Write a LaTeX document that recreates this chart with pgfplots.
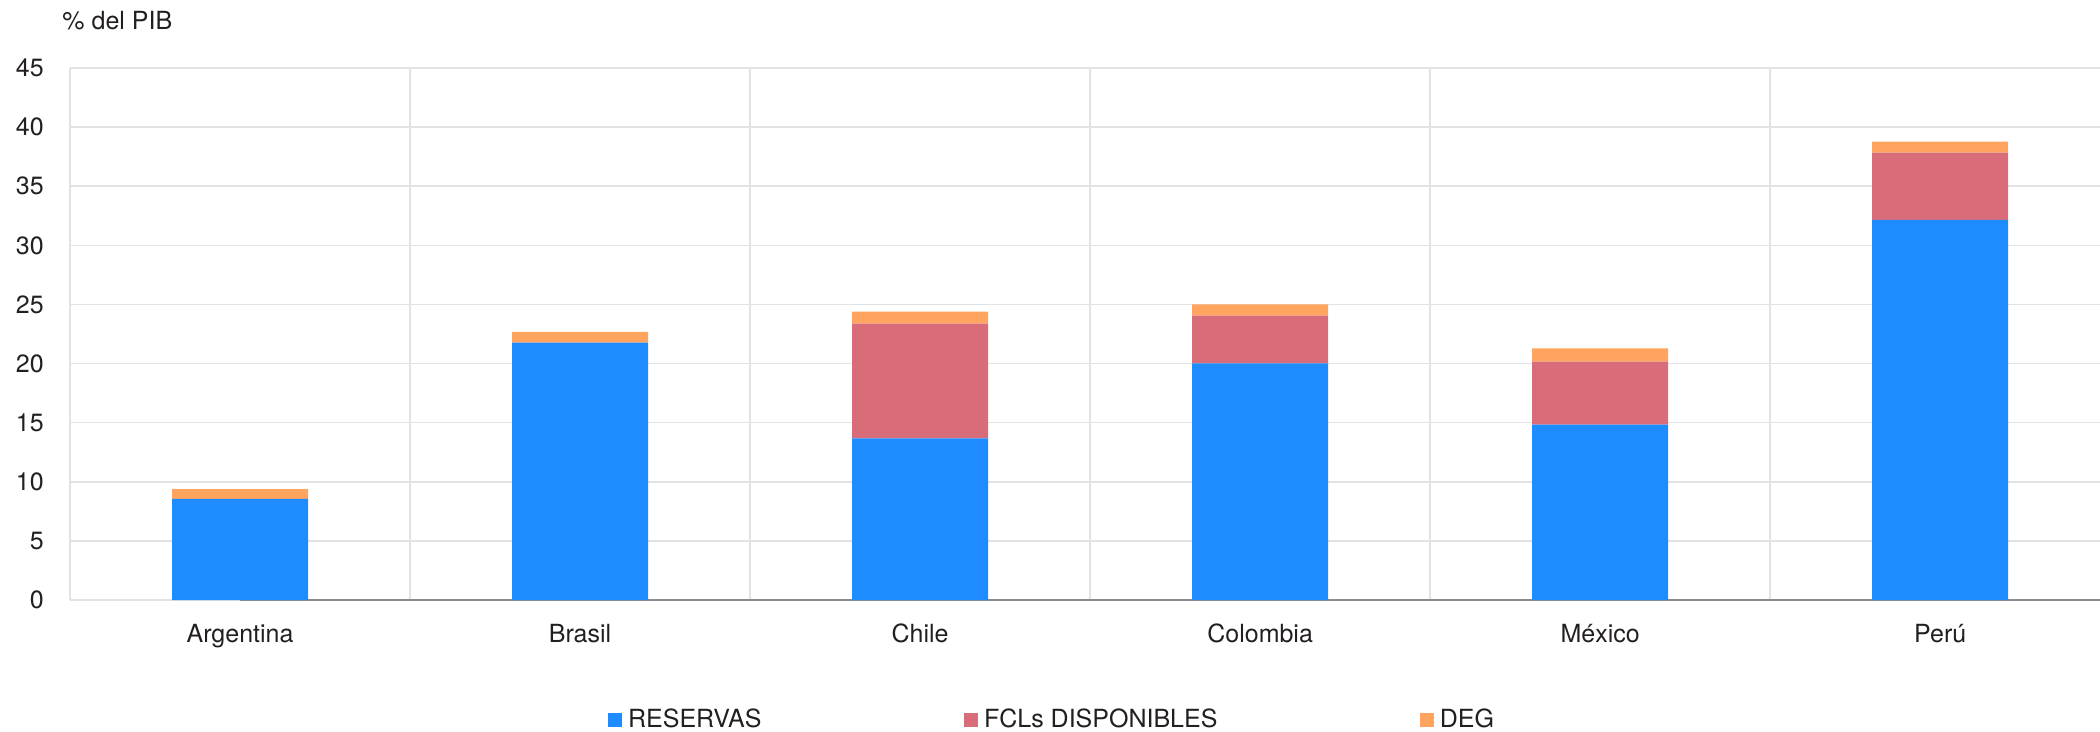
\documentclass[border=0pt]{standalone}
\usepackage{fontspec}
\setmainfont{TeX Gyre Heros}
\usepackage{pgfplots}
\pgfplotsset{compat=1.18}
\usepackage{pgfplotstable}

\definecolor{reservas}{HTML}{1E8CFF}
\definecolor{fcl}{HTML}{D96C79}
\definecolor{deg}{HTML}{FFA45E}
\definecolor{gridgray}{HTML}{E2E2E2}
\definecolor{txt}{HTML}{231F20}

% country  reservas  fcl  deg   (% del PIB)
\pgfplotstableread{
x  reservas  fcl   deg
0  8.55      0.0   0.82
1  21.77     0.0   0.90
2  13.68     9.70  1.01
3  20.02     4.03  0.95
4  14.83     5.33  1.13
5  32.15     5.69  0.93
}\datatable

\begin{document}
\begin{tikzpicture}
\path[use as bounding box] (-28pt,-52.4pt) rectangle (812pt,240pt);
\begin{axis}[
  at={(0,0)}, anchor=south west,
  scale only axis, width=812pt, height=212.8pt,
  ybar stacked, bar width=0.4, bar shift=0pt,
  xmin=-0.5, xmax=5.47, ymin=0, ymax=45,
  xtick={0,...,5},
  xticklabels={Argentina,Brasil,Chile,Colombia,México,Perú},
  minor xtick={-0.5,0.5,1.5,2.5,3.5,4.5},
  xminorgrids, ymajorgrids,
  ytick={0,5,...,45},
  major tick length=0pt, minor tick length=0pt,
  grid style={gridgray, line width=0.6pt},
  minor grid style={gridgray, line width=0.6pt},
  axis line style={draw=none},
  tick label style={font=\fontsize{10}{12}\selectfont, text=txt},
  xticklabel style={yshift=-6pt},
  yticklabel style={xshift=-7pt},
  /pgf/number format/assume math mode=true,
  legend columns=3,
  legend style={
    at={(rel axis cs:0.4833,-0.2256)}, anchor=center,
    draw=none, fill=none, inner sep=0pt,
    font=\fontsize{10}{12}\selectfont, text=txt,
    nodes={inner sep=0pt, anchor=west},
    column sep=2.4pt,
    /tikz/every even column/.append style={column sep=81pt},
  },
  legend image code/.code={\fill[#1,draw=none] (0pt,-2.9pt) rectangle (5.6pt,2.9pt);},
  clip=false,
]
\addplot[fill=reservas, draw=none] table[x=x, y=reservas] {\datatable};
\addlegendentry{RESERVAS}
\addplot[fill=fcl, draw=none] table[x=x, y=fcl] {\datatable};
\addlegendentry{FCLs DISPONIBLES}
\addplot[fill=deg, draw=none] table[x=x, y=deg] {\datatable};
\addlegendentry{DEG}
\draw[color=gray!90, line width=0.6pt] (axis cs:0,0) -- (axis cs:5.47,0);
\node[anchor=base west, font=\fontsize{10}{12}\selectfont, text=txt, inner sep=0pt]
  at ([xshift=-3.2pt,yshift=15.6pt]rel axis cs:0,1) {\% del PIB};
\end{axis}
\end{tikzpicture}
\end{document}
